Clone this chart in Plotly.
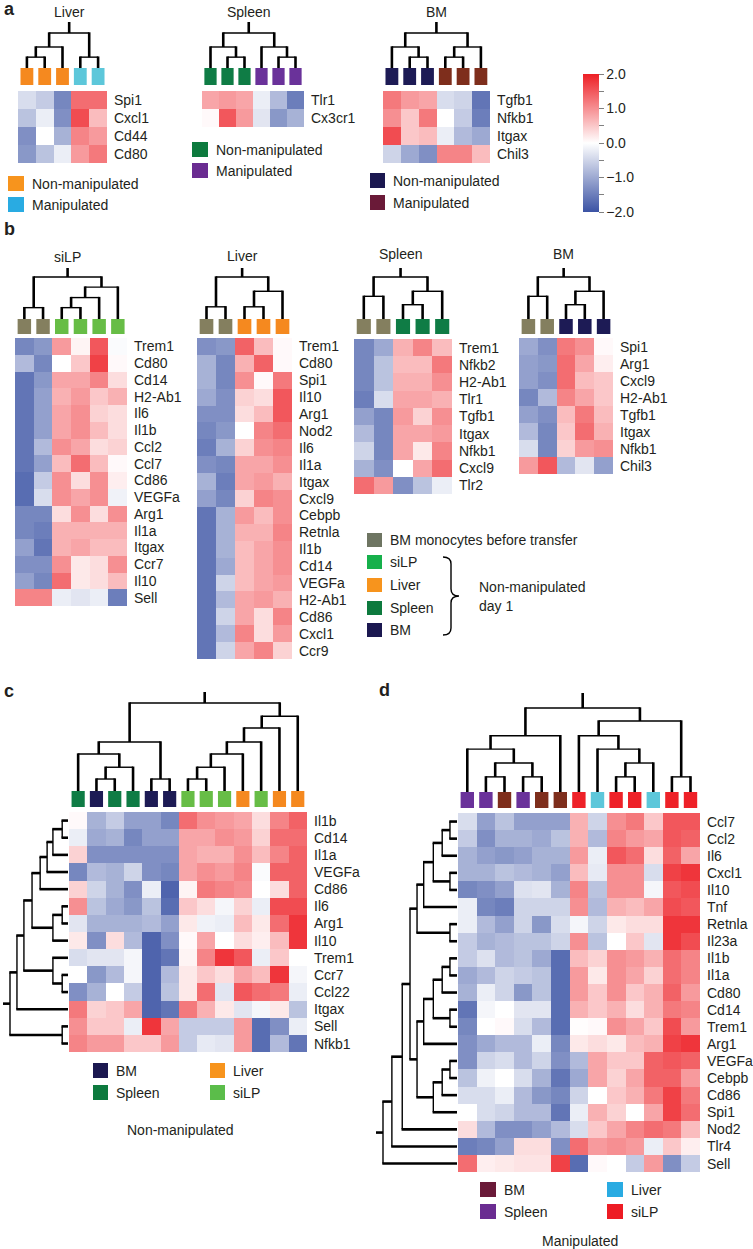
import plotly.graph_objects as go

W, H = 753, 1249
FONT = "Liberation Sans, Arial, Helvetica, sans-serif"
TXT = "#231F20"

COLORSCALE = [[0.0, "#3B53A4"], [0.5, "#FFFFFF"], [1.0, "#ED1F25"]]
CB_TICKVALS = [-2, -1.5, -1, -0.5, 0, 0.5, 1, 1.5, 2]
CB_TICKTEXT = ["\u22122.0", "", "\u22121.0", "", "0.0", "", "1.0", "", "2.0"]

# sample-group colours (boxes above heatmaps)
BOX_COLORS = {
    "BM mono": "#847F5F", "siLP": "#67BD46", "Liver": "#F5891F", "Spleen": "#0F7C45",
    "BM": "#1D1B55", "siLP-M": "#EE2128", "Liver-M": "#5DC7DA", "Spleen-M": "#6A329A",
    "BM-M": "#7E2E1C",
}

# ---------------- Panel a ----------------
a_liver_genes = ["Spi1", "Cxcl1", "Cd44", "Cd80"]
a_liver_samples = ["Liver"] * 3 + ["Liver-M"] * 2
a_liver_values = [
    [-0.4, -0.6, -1.4, 1.3, 1.3],
    [-0.7, -0.2, -1.3, 1.6, 0.6],
    [-1.3, 0.0, -0.9, 1.1, 0.9],
    [-1.2, -0.7, -0.2, 0.9, 1.2],
]
a_liver_link = [(0, 1, 0.31), (5, 2, 0.6), (3, 4, 0.31), (6, 7, 1.0)]

a_spleen_genes = ["Tlr1", "Cx3cr1"]
a_spleen_samples = ["Spleen"] * 3 + ["Spleen-M"] * 3
a_spleen_values = [
    [0.8, 0.9, 0.8, -0.2, -0.8, -1.5],
    [0.05, 1.5, 0.9, -0.3, -1.2, -0.9],
]
a_spleen_link = [(1, 2, 0.31), (0, 6, 0.6), (4, 5, 0.31), (3, 8, 0.6), (7, 9, 1.0)]

a_bm_genes = ["Tgfb1", "Nfkb1", "Itgax", "Chil3"]
a_bm_samples = ["BM"] * 3 + ["BM-M"] * 3
a_bm_values = [
    [1.2, 0.9, 0.8, -0.4, -0.5, -1.6],
    [1.0, 0.5, 1.2, 0.0, -0.6, -1.5],
    [1.6, 0.5, 0.6, -0.2, -0.8, -1.0],
    [-0.5, -1.0, -1.3, 1.1, 1.1, 0.6],
]
a_bm_link = [(1, 2, 0.31), (0, 6, 0.6), (3, 4, 0.31), (8, 5, 0.6), (7, 9, 1.0)]

# ---------------- Panel b ----------------
b_silp_genes = ["Trem1", "Cd80", "Cd14", "H2-Ab1", "Il6", "Il1b", "Ccl2", "Ccl7", "Cd86",
                "VEGFa", "Arg1", "Il1a", "Itgax", "Ccr7", "Il10", "Sell"]
b_silp_samples = ["BM mono"] * 2 + ["siLP"] * 4
b_silp_values = [
    [-1.4, -1.2, 0.9, 0.1, 1.5, -0.05],
    [-0.8, -1.4, 0.0, 0.5, 1.7, 0.05],
    [-1.6, -1.2, 0.8, 0.8, 1.1, 0.3],
    [-1.6, -1.1, 0.7, 0.9, 0.5, 0.7],
    [-1.6, -1.1, 0.8, 1.0, 0.4, 0.3],
    [-1.6, -1.1, 0.8, 1.0, 0.6, 0.3],
    [-1.6, -0.8, 1.0, 0.8, 0.3, 0.4],
    [-1.6, -1.1, 0.6, 1.3, 0.6, 0.05],
    [-1.7, -0.6, 1.0, 0.3, 1.0, 0.15],
    [-1.7, -0.4, 1.0, 0.8, 1.0, -0.15],
    [-1.4, -1.4, 0.3, 1.0, 0.3, 1.0],
    [-1.4, -1.5, 0.7, 0.7, 0.7, 0.7],
    [-1.1, -1.6, 0.7, 0.8, 0.6, 0.6],
    [-1.3, -1.3, 1.0, 0.2, 0.3, 1.0],
    [-1.1, -1.4, 1.3, 0.2, 0.3, 0.6],
    [1.1, 1.1, -0.2, -0.3, -0.2, -1.5],
]
b_silp_link = [(0, 1, 0.27), (2, 3, 0.27), (7, 4, 0.51), (8, 5, 0.76), (6, 9, 1.0)]

b_liver_genes = ["Trem1", "Cd80", "Spi1", "Il10", "Arg1", "Nod2", "Il6", "Il1a", "Itgax",
                 "Cxcl9", "Cebpb", "Retnla", "Il1b", "Cd14", "VEGFa", "H2-Ab1", "Cd86",
                 "Cxcl1", "Ccr9"]
b_liver_samples = ["BM mono"] * 2 + ["Liver"] * 3
b_liver_values = [
    [-1.3, -1.2, 1.4, 0.6, 0.05],
    [-0.9, -1.4, 0.7, 1.4, 0.05],
    [-0.9, -1.4, 1.0, 0.05, 1.2],
    [-1.0, -1.3, 0.4, 0.3, 1.5],
    [-1.3, -1.3, 0.3, 0.6, 1.5],
    [-1.4, -1.2, 0.0, 1.1, 1.3],
    [-1.5, -0.9, 0.4, 1.0, 1.1],
    [-1.3, -1.4, 0.8, 0.8, 1.0],
    [-0.9, -1.5, 0.8, 0.9, 0.7],
    [-1.1, -1.4, 0.4, 1.1, 1.0],
    [-1.6, -0.9, 0.9, 0.6, 1.0],
    [-1.6, -0.9, 0.7, 0.7, 1.1],
    [-1.6, -0.9, 0.6, 0.8, 1.0],
    [-1.6, -1.0, 0.6, 0.8, 1.0],
    [-1.6, -0.5, 0.6, 0.8, 0.9],
    [-1.6, -0.8, 0.8, 0.9, 0.7],
    [-1.6, -0.5, 0.8, 0.3, 1.1],
    [-1.6, -0.8, 1.1, 0.3, 0.9],
    [-1.6, -0.5, 0.8, 1.1, 0.4],
]
b_liver_link = [(0, 1, 0.29), (2, 3, 0.29), (6, 4, 0.66), (5, 7, 1.0)]

b_spleen_genes = ["Trem1", "Nfkb2", "H2-Ab1", "Tlr1", "Tgfb1", "Itgax", "Nfkb1", "Cxcl9", "Tlr2"]
b_spleen_samples = ["BM mono"] * 2 + ["Spleen"] * 3
b_spleen_values = [
    [-1.4, -1.0, 0.7, 1.1, 0.6],
    [-1.4, -0.7, 0.6, 0.6, 1.2],
    [-1.4, -0.7, 0.7, 0.7, 1.0],
    [-1.5, -0.4, 0.8, 0.8, 0.7],
    [-1.1, -1.4, 0.9, 0.4, 1.0],
    [-0.8, -1.4, 0.8, 0.8, 0.9],
    [-0.5, -1.4, 0.8, 0.2, 1.1],
    [-0.9, -1.3, 0.0, 0.8, 1.3],
    [1.3, 0.9, -1.3, -0.7, -0.2],
]
b_spleen_link = [(0, 1, 0.54), (2, 3, 0.34), (6, 4, 0.66), (5, 7, 1.0)]

b_bm_genes = ["Spi1", "Arg1", "Cxcl9", "H2-Ab1", "Tgfb1", "Itgax", "Nfkb1", "Chil3"]
b_bm_samples = ["BM mono"] * 2 + ["BM"] * 3
b_bm_values = [
    [-1.0, -1.3, 1.2, 1.0, 0.05],
    [-1.1, -1.2, 1.3, 0.8, 0.15],
    [-1.1, -1.3, 1.3, 0.6, 0.5],
    [-1.4, -0.8, 1.1, 0.8, 0.5],
    [-1.1, -1.3, 0.6, 1.2, 0.6],
    [-0.8, -1.4, 0.5, 1.3, 0.7],
    [-0.4, -1.4, 0.4, 0.9, 1.0],
    [0.9, 1.5, -0.8, -0.3, -1.1],
]
b_bm_link = [(0, 1, 0.54), (2, 3, 0.34), (6, 4, 0.66), (5, 7, 1.0)]

# ---------------- Panel c ----------------
c_genes = ["Il1b", "Cd14", "Il1a", "VEGFa", "Cd86", "Il6", "Arg1", "Il10", "Trem1", "Ccr7",
           "Ccl22", "Itgax", "Sell", "Nfkb1"]
c_samples = ["Spleen", "BM", "Spleen", "Spleen", "BM", "BM", "siLP", "siLP", "siLP",
             "Liver", "siLP", "Liver", "Liver"]
c_values = [
    [0.05, -0.9, -0.6, -1.1, -1.1, -1.4, 1.3, 1.0, 0.9, 0.8, 0.3, 1.1, 1.4],
    [-0.2, -1.0, -0.9, -1.4, -1.1, -1.1, 0.8, 0.8, 1.0, 0.9, 0.4, 1.3, 1.3],
    [0.4, -1.3, -1.3, -1.3, -1.3, -1.3, 0.8, 0.7, 0.7, 1.0, 0.6, 1.1, 1.4],
    [-1.4, -0.8, -0.9, -0.5, -1.3, -1.4, 0.8, 1.0, 0.9, 1.1, -0.05, 1.4, 1.4],
    [0.4, -0.5, -0.9, -1.3, -0.2, -1.8, 0.1, 1.2, 1.1, 1.0, 0.0, 0.3, 1.4],
    [1.0, -0.7, -1.0, -1.2, -0.7, -1.7, 0.5, 0.3, -0.1, 0.4, -0.2, 1.6, 1.6],
    [-0.3, -0.9, -0.9, -0.9, -0.8, -1.1, 0.2, -0.15, -0.2, 0.6, 0.2, 1.3, 1.8],
    [0.2, -1.3, 0.3, -0.8, -1.8, -1.3, 0.05, 0.8, 0.0, 0.3, 0.15, 0.6, 1.8],
    [-0.4, -0.3, -0.3, -0.1, -1.8, -1.6, 0.1, 1.1, 1.8, 1.5, -0.2, 0.5, 0.0],
    [0.0, -1.2, -0.8, -0.1, -1.8, -0.8, 0.2, 0.5, 0.3, 0.8, 0.6, 1.8, -0.1],
    [-1.3, -0.9, 0.0, -0.6, -1.8, -0.7, 0.2, 1.3, -0.3, 1.5, 1.3, 1.2, -0.2],
    [1.2, 0.4, 0.5, 0.8, -1.8, -1.6, 1.2, 0.7, 0.2, -0.3, -0.1, 0.2, -0.7],
    [1.0, 0.5, 0.5, -0.2, 1.8, 0.8, -0.6, -0.6, -0.6, 0.9, -1.7, -1.3, -0.2],
    [1.1, 0.9, 0.9, 0.5, 0.5, 0.9, -0.6, -0.25, -0.3, 0.9, -1.7, -0.8, -1.6],
]
c_col_link = [(1, 2, 0.136), (13, 3, 0.27), (0, 14, 0.42), (4, 5, 0.136), (15, 16, 0.557),
              (6, 7, 0.136), (18, 8, 0.27), (19, 9, 0.42), (20, 10, 0.557), (21, 11, 0.716),
              (22, 12, 0.85), (17, 23, 1.0)]
c_row_link = [(0, 1, 0.10), (14, 2, 0.26), (15, 3, 0.36), (16, 4, 0.48), (5, 6, 0.10),
              (18, 7, 0.26), (17, 19, 0.62), (9, 10, 0.10), (8, 21, 0.26), (20, 22, 0.76),
              (23, 11, 0.88), (12, 13, 0.10), (24, 25, 1.0)]

# ---------------- Panel d ----------------
d_genes = ["Ccl7", "Ccl2", "Il6", "Cxcl1", "Il10", "Tnf", "Retnla", "Il23a", "Il1b", "Il1a",
           "Cd80", "Cd14", "Trem1", "Arg1", "VEGFa", "Cebpb", "Cd86", "Spi1", "Nod2", "Tlr4",
           "Sell"]
d_samples = ["Spleen-M", "Spleen-M", "BM-M", "Spleen-M", "BM-M", "BM-M", "siLP-M", "Liver-M",
             "siLP-M", "siLP-M", "Liver-M", "siLP-M", "siLP-M"]
d_values = [
    [-0.4, -1.1, -0.7, -1.1, -1.1, -1.1, 0.7, -0.5, 1.0, 1.2, 0.5, 1.5, 1.5],
    [-0.6, -1.3, -0.9, -0.9, -1.0, -0.7, 0.7, -0.8, 1.1, 0.9, 0.8, 1.5, 1.4],
    [-0.9, -1.1, -1.2, -1.1, -0.9, -0.9, 0.9, -0.2, 1.5, 1.3, 0.3, 1.4, 0.8],
    [-0.9, -0.9, -0.7, -0.8, -0.9, -1.1, 0.6, -0.25, 1.0, 1.0, -0.4, 1.7, 1.8],
    [-1.4, -1.3, -1.1, -0.35, -0.3, -0.9, 1.1, -0.7, 1.0, 1.0, -0.1, 1.5, 1.6],
    [-0.2, -1.4, -1.5, -0.5, -0.5, -0.5, 1.0, -0.8, 0.7, 0.6, 0.8, 1.6, 1.5],
    [-0.2, -0.8, -1.1, -0.5, -1.2, -0.4, -0.1, -0.5, 0.2, 0.3, 0.3, 1.8, 1.8],
    [-0.6, -0.9, -0.8, -0.7, -0.7, -0.5, 1.0, -0.7, 0.0, 0.5, -0.3, 1.8, 1.6],
    [-0.6, -0.35, -0.8, -0.7, -1.0, -1.7, 0.6, 0.4, 1.0, 0.9, 0.7, 1.3, 1.1],
    [-1.0, -0.8, -0.5, -0.6, -0.7, -1.7, 0.9, 0.2, 1.0, 0.8, 0.4, 1.3, 1.1],
    [-0.9, -0.2, -0.5, -1.2, -0.7, -1.7, 0.9, 0.5, 1.0, 0.5, 0.7, 1.4, 0.9],
    [-1.6, -0.1, 0.0, -0.3, -0.3, -1.7, 0.7, 0.5, 0.7, 0.3, 0.7, 1.2, 1.1],
    [-1.4, 0.0, 0.05, -0.4, -0.8, -1.7, 0.02, 0.05, 1.0, 0.8, 0.5, 1.6, 0.9],
    [-1.3, -1.0, -0.8, -0.8, -0.2, -1.4, 0.2, 0.3, 0.2, 0.6, 0.7, 1.7, 1.8],
    [-1.3, -0.5, -0.4, -0.8, -0.5, -1.3, -0.8, 0.8, 0.5, 0.5, 1.4, 1.5, 1.4],
    [-0.7, -0.15, 0.0, -0.4, -0.9, -1.6, -1.0, 0.8, 0.4, 0.8, 1.4, 1.4, 0.9],
    [-0.4, -0.4, -0.2, -0.8, -1.2, -1.4, -0.5, 0.0, 0.5, 0.7, 1.2, 1.7, 1.2],
    [0.0, -0.4, -0.5, -0.8, -0.8, -1.6, -0.2, 0.7, 0.4, 0.0, 0.8, 1.7, 1.3],
    [0.3, -0.8, -1.3, -1.3, -1.1, -0.8, -0.4, 0.5, 0.8, 1.1, 1.3, 1.2, 0.6],
    [-1.5, -1.4, -1.1, 0.3, 0.3, -1.3, 1.3, 0.9, 1.0, 0.9, -0.2, 0.5, 0.15],
    [1.3, 0.15, 0.2, 0.25, 0.25, 1.7, -1.7, 0.05, 0.0, -0.6, 0.9, -1.3, -0.6],
]
d_col_link = [(1, 2, 0.18), (3, 4, 0.18), (13, 14, 0.345), (0, 15, 0.51), (16, 5, 0.67),
              (8, 9, 0.18), (18, 10, 0.345), (7, 19, 0.51), (6, 20, 0.67), (11, 12, 0.18),
              (21, 22, 0.845), (17, 23, 1.0)]
d_row_link = [(0, 1, 0.095), (21, 2, 0.2), (3, 4, 0.095), (22, 23, 0.32), (24, 5, 0.45),
              (6, 7, 0.095), (25, 26, 0.54), (8, 9, 0.095), (28, 10, 0.2), (11, 12, 0.095),
              (29, 30, 0.32), (31, 13, 0.45), (14, 15, 0.095), (33, 16, 0.2), (34, 17, 0.32),
              (32, 35, 0.54), (27, 36, 0.635), (37, 18, 0.74), (38, 19, 0.88), (39, 20, 1.0)]

# ---------------- layout geometry (pixels) ----------------
GEOM = {
    "a_liver": dict(left=18, top=91, cw=17.8, rh=18, box_top=68, box_h=17, root=33, stem=22,
                    title="Liver", title_y=12),
    "a_spleen": dict(left=202, top=91, cw=17.0, rh=18, box_top=68, box_h=17, root=33, stem=22,
                     title="Spleen", title_y=12),
    "a_bm": dict(left=383, top=91, cw=17.8, rh=18, box_top=68, box_h=17, root=33, stem=22,
                 title="BM", title_y=12),
    "b_silp": dict(left=15, top=338, cw=18.7, rh=16.75, box_top=319, box_h=15, root=277,
                   stem=268, title="siLP", title_y=257),
    "b_liver": dict(left=197, top=338, cw=19.0, rh=16.9, box_top=319, box_h=15, root=277,
                    stem=268, title="Liver", title_y=256),
    "b_spleen": dict(left=354, top=339, cw=19.6, rh=17.2, box_top=319, box_h=15, root=277,
                     stem=268, title="Spleen", title_y=254),
    "b_bm": dict(left=519, top=338, cw=18.8, rh=17.0, box_top=319, box_h=15, root=277,
                 stem=268, title="BM", title_y=254),
    "c": dict(left=69, top=812, cw=18.3, rh=17.15, box_top=791, box_h=16, root=703, stem=692,
              title=None, title_y=0, row_leaf=68, row_root=10, row_stem=3),
    "d": dict(left=458, top=813, cw=18.6, rh=17.1, box_top=792, box_h=16, root=708, stem=693,
              title=None, title_y=0, row_leaf=457, row_root=383, row_stem=376),
}

fig = go.Figure()
ann = []
shapes = []
thick = {"x": [], "y": []}
thin = {"x": [], "y": []}


def seg(store, x0, y0, x1, y1):
    store["x"] += [x0, x1, None]
    store["y"] += [y0, y1, None]


def dendro(n, link, centers, base, root, stem, orient, ext=0.7):
    pos = list(centers)
    dep = [base] * n
    for a, b, h in link:
        d = base + h * (root - base)
        for c in (a, b):
            if orient == "col":
                seg(thick, pos[c], dep[c], pos[c], d - ext)
            else:
                seg(thick, dep[c], pos[c], d - ext, pos[c])
        if orient == "col":
            seg(thin, pos[a], d, pos[b], d)
        else:
            seg(thin, d, pos[a], d, pos[b])
        pos.append((pos[a] + pos[b]) / 2)
        dep.append(d)
    if orient == "col":
        seg(thick, pos[-1], dep[-1], pos[-1], stem)
    else:
        seg(thick, dep[-1], pos[-1], stem, pos[-1])
    return pos


def text(x, y, s, size=14, xanchor="left", bold=False):
    ann.append(dict(x=x, y=y, xref="x", yref="y", text=("<b>%s</b>" % s) if bold else s,
                    showarrow=False, xanchor=xanchor, yanchor="middle",
                    font=dict(family=FONT, size=size, color=TXT)))


def rect(x0, y0, x1, y1, color):
    shapes.append(dict(type="rect", xref="x", yref="y", x0=x0, y0=y0, x1=x1, y1=y1,
                       fillcolor=color, line=dict(width=0), layer="above"))


def add_heat(key, genes, samples, values, link, row_link=None, showscale=False):
    g = GEOM[key]
    n = len(samples)
    cb = None
    if showscale:
        cb = dict(x=583 / W, xanchor="left", y=1 - 143 / H, yanchor="middle", len=138,
                  lenmode="pixels", thickness=16, thicknessmode="pixels", outlinewidth=0,
                  xpad=0, ypad=0, ticks="outside", ticklen=5, tickcolor="#808080",
                  tickvals=CB_TICKVALS, ticktext=CB_TICKTEXT,
                  tickfont=dict(family=FONT, size=14, color=TXT))
    fig.add_trace(go.Heatmap(z=values, x0=g["left"] + g["cw"] / 2, dx=g["cw"],
                             y0=g["top"] + g["rh"] / 2, dy=g["rh"], zmin=-2, zmax=2,
                             colorscale=COLORSCALE, showscale=showscale, colorbar=cb,
                             hoverinfo="skip"))
    centers = [g["left"] + g["cw"] * (i + 0.5) for i in range(n)]
    bw = g["cw"] * 0.72
    for c, s in zip(centers, samples):
        rect(c - bw / 2, g["box_top"], c + bw / 2, g["box_top"] + g["box_h"], BOX_COLORS[s])
    pos = dendro(n, link, centers, g["box_top"], g["root"], g["stem"], "col")
    right = g["left"] + g["cw"] * n
    for j, gene in enumerate(genes):
        text(right + 5, g["top"] + g["rh"] * (j + 0.5), gene)
    if g["title"]:
        text(pos[-1], g["title_y"], g["title"], xanchor="center")
    if row_link is not None:
        rows = [g["top"] + g["rh"] * (j + 0.5) for j in range(len(genes))]
        dendro(len(genes), row_link, rows, g["row_leaf"], g["row_root"], g["row_stem"], "row")


add_heat("a_liver", a_liver_genes, a_liver_samples, a_liver_values, a_liver_link, showscale=True)
add_heat("a_spleen", a_spleen_genes, a_spleen_samples, a_spleen_values, a_spleen_link)
add_heat("a_bm", a_bm_genes, a_bm_samples, a_bm_values, a_bm_link)
add_heat("b_silp", b_silp_genes, b_silp_samples, b_silp_values, b_silp_link)
add_heat("b_liver", b_liver_genes, b_liver_samples, b_liver_values, b_liver_link)
add_heat("b_spleen", b_spleen_genes, b_spleen_samples, b_spleen_values, b_spleen_link)
add_heat("b_bm", b_bm_genes, b_bm_samples, b_bm_values, b_bm_link)
add_heat("c", c_genes, c_samples, c_values, c_col_link, row_link=c_row_link)
add_heat("d", d_genes, d_samples, d_values, d_col_link, row_link=d_row_link)

fig.add_trace(go.Scatter(x=thick["x"], y=thick["y"], mode="lines",
                         line=dict(color="#000000", width=2.6), hoverinfo="skip"))
fig.add_trace(go.Scatter(x=thin["x"], y=thin["y"], mode="lines",
                         line=dict(color="#000000", width=1.4), hoverinfo="skip"))


# ---------------- legends ----------------
def legend_item(x, yc, color, label, bw=15, bh=15):
    rect(x, yc - bh / 2, x + bw, yc + bh / 2, color)
    text(x + bw + 6, yc, label)


legend_item(8, 183.5, "#F7941D", "Non-manipulated", bw=16)
legend_item(8, 204.5, "#29ABE2", "Manipulated", bw=16)
legend_item(192, 149.5, "#0D7A3E", "Non-manipulated", bw=16)
legend_item(192, 170.5, "#6A2C91", "Manipulated", bw=16)
legend_item(370, 180.5, "#1B1850", "Non-manipulated")
legend_item(370, 202.5, "#6A1A38", "Manipulated")

b_leg_labels = ["BM monocytes before transfer", "siLP", "Liver", "Spleen", "BM"]
b_leg_colors = ["#6E7562", "#16B04B", "#F7941D", "#0D7A3E", "#1B1850"]
b_leg_y = [540, 562, 585, 608, 630]
for lab, col, yc in zip(b_leg_labels, b_leg_colors, b_leg_y):
    legend_item(367, yc, col, lab, bh=14)
shapes.append(dict(type="path", xref="x", yref="y",
                   path="M 443,557 Q 451,557 451,564 L 451,589 Q 451,596 459,596 "
                        "Q 451,596 451,603 L 451,628 Q 451,635 443,635",
                   line=dict(color="#000000", width=1.4)))
text(477, 587, "Non-manipulated")
text(477, 606, "day 1")

legend_item(93, 1070.5, "#1B1850", "BM")
legend_item(93, 1092.5, "#0D7A3E", "Spleen")
legend_item(210, 1070.5, "#F7941D", "Liver")
legend_item(210, 1092.5, "#5BBD4A", "siLP")
text(180, 1130, "Non-manipulated", xanchor="center")

legend_item(480, 1189.5, "#6A1A38", "BM", bw=16)
legend_item(480, 1211.5, "#6A2C91", "Spleen", bw=16)
legend_item(607, 1189.5, "#29ABE2", "Liver", bw=16)
legend_item(607, 1211.5, "#ED1C24", "siLP", bw=16)
text(580, 1241, "Manipulated", xanchor="center")

# panel letters
text(2, 9, "a", size=18, bold=True)
text(2, 229, "b", size=18, bold=True)
text(2, 691, "c", size=18, bold=True)
text(377, 690, "d", size=18, bold=True)

fig.update_layout(
    width=W, height=H, margin=dict(l=0, r=0, t=0, b=0),
    paper_bgcolor="white", plot_bgcolor="white", showlegend=False,
    xaxis=dict(range=[0, W], visible=False, fixedrange=True),
    yaxis=dict(range=[H, 0], visible=False, fixedrange=True),
    annotations=ann, shapes=shapes,
)
fig.write_html("out.html", config={"displayModeBar": False, "staticPlot": True},
               post_script="document.body.style.margin='0';"
                           "document.body.style.overflow='hidden';")
